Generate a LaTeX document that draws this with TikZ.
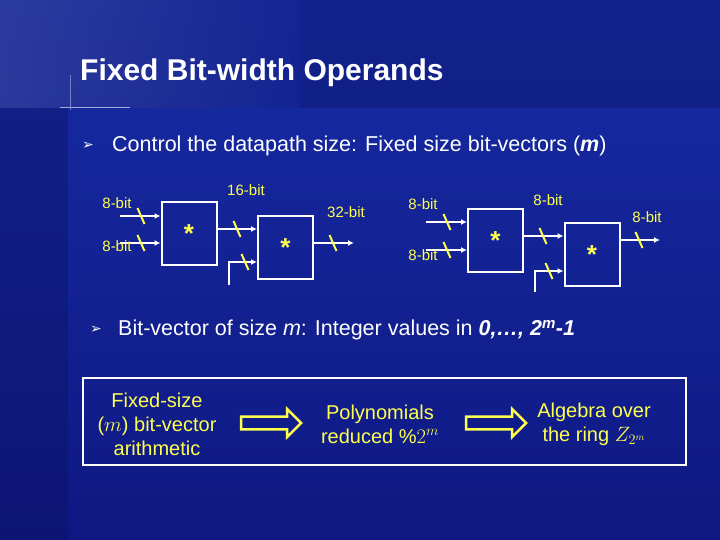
\documentclass[tikz,border=0pt]{standalone}
\usepackage{fontspec}
\setmainfont{Liberation Sans}
\newfontfamily\djfont{DejaVu Sans}
\usetikzlibrary{arrows.meta,shapes.arrows}
\definecolor{bgA}{RGB}{14,24,130}
\definecolor{bgB}{RGB}{24,44,165}
\definecolor{yel}{RGB}{255,255,80}
\begin{document}
\begin{tikzpicture}[x=1pt,y=-1pt,
  box/.style={draw=white,line width=2pt,minimum width=55pt,minimum height=63pt,inner sep=0pt,font=\fontsize{26}{26}\selectfont\bfseries,text=yel},
  wire/.style={draw=white,line width=2pt,-{Latex[length=6pt,width=6pt]}},
  lbl/.style={text=yel,font=\fontsize{15}{16}\selectfont,inner sep=1pt},
  tick/.style={draw=yel,line width=2pt},
  bullet/.style={text=white,font=\fontsize{21.5}{24}\selectfont,anchor=west,inner sep=0pt},
  bmark/.style={text=white,font=\djfont\fontsize{14}{14}\selectfont},
  harrow/.style={single arrow,draw=yel,line width=2.5pt,minimum width=28pt,single arrow head extend=5pt,minimum height=60pt,inner sep=3pt},
  bt/.style={text=yel,font=\fontsize{20}{24}\selectfont,align=center}]
\useasboundingbox (0,0) rectangle (720,540);
\shade[top color=bgB,bottom color=bgA] (0,0) rectangle (720,540);
\fill[bgA!80!black,opacity=0.4] (0,0) rectangle (720,108);
\shade[left color=bgB!70!white,right color=bgB,opacity=0.35] (0,0) rectangle (300,108);
\fill[bgA!70!black,opacity=0.35] (0,108) rectangle (68,540);
\draw[white!60!bgB,line width=1pt] (60,108) -- (130,108);
\draw[white!40!bgB,line width=0.8pt] (70,75) -- (70,110);
\node[text=white,font=\fontsize{30}{32}\selectfont\bfseries,anchor=west,inner sep=0pt] (title) at (80,73) {Fixed Bit-width Operands};
\node[bmark] (b1) at (88,146) {➢};
\node[bullet] (t1) at (112,146) {Control the datapath size: Fixed size bit-vectors (\textbf{\textit{m}})};
\node[bmark] (b2) at (96,330) {➢};
\node[bullet] (t2) at (118,330) {Bit-vector of size \textit{m}: Integer values in \textbf{\textit{0,…, 2\textsuperscript{m}-1}}};
% left circuit
\node[box] (m1) at (189,233.5) {*};
\node[box] (m2) at (285.5,247.5) {*};
\coordinate (i1) at (120,216); \coordinate (i2) at (120,243);
\coordinate (c1) at (228.5,285);
\coordinate (o1) at (354,243);
\draw[wire] (i1) -- (i1 -| m1.west);
\draw[wire] (i2) -- (i2 -| m1.west);
\draw[wire] (m1.east |- 0,229) -- (m2.west |- 0,229);
\draw[wire] (c1) |- (m2.west |- 0,262);
\draw[wire] (m2.east |- o1) -- (o1);
\foreach \x/\y in {141/216,141/243,237/229,245/262,333/243}{\draw[tick] (\x-3.5,\y-8) -- (\x+3.5,\y+8);}
\node[lbl] (l1) at (117,203) {8-bit};
\node[lbl] (l2) at (117,246) {8-bit};
\node[lbl] (l3) at (246,190) {16-bit};
\node[lbl] (l4) at (346,212) {32-bit};
% right circuit
\node[box] (m3) at (495.5,240.5) {*};
\node[box] (m4) at (592,254.5) {*};
\coordinate (i3) at (426,222); \coordinate (i4) at (426,250);
\coordinate (c2) at (535,292);
\coordinate (o2) at (660,240);
\draw[wire] (i3) -- (i3 -| m3.west);
\draw[wire] (i4) -- (i4 -| m3.west);
\draw[wire] (m3.east |- 0,236) -- (m4.west |- 0,236);
\draw[wire] (c2) |- (m4.west |- 0,271);
\draw[wire] (m4.east |- o2) -- (o2);
\foreach \x/\y in {447/222,447/250,543/236,549/271,639/240}{\draw[tick] (\x-3.5,\y-8) -- (\x+3.5,\y+8);}
\node[lbl] (l5) at (423,204) {8-bit};
\node[lbl] (l6) at (423,255) {8-bit};
\node[lbl] (l7) at (548,200) {8-bit};
\node[lbl] (l8) at (647,217) {8-bit};
% bottom box
\draw[white,line width=2pt] (83,378) rectangle (686,465);
\node[bt] (p1) at (157,424) {Fixed-size\\($m$) bit-vector\\arithmetic};
\node[harrow] (a1) at (268,423) {};
\node[bt] (p2) at (380,424) {Polynomials\\reduced \%$2^m$};
\node[harrow] (a2) at (493,423) {};
\node[bt] (p3) at (594,424) {Algebra over\\the ring $Z_{2^m}$};
\end{tikzpicture}
\end{document}
